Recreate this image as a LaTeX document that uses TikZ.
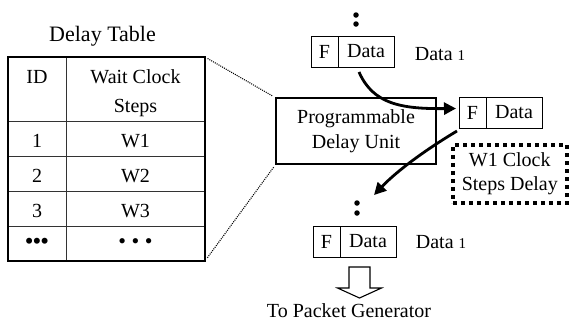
\documentclass[tikz,border=0pt]{standalone}
\usepackage{fontspec}
\setmainfont{Liberation Serif}
\usetikzlibrary{arrows.meta,calc}

\begin{document}
\begin{tikzpicture}[x=1pt,y=-1pt,
  txt/.style={font=\fontsize{20}{25}\selectfont, inner sep=0pt, anchor=base},
  gridline/.style={line width=0.9pt, draw=black!80},
  frame/.style={draw, line width=1.8pt, inner sep=0pt, outer sep=0pt},
  unitbox/.style={draw, line width=1.3pt, inner sep=0pt, outer sep=0pt, align=center,
    font=\fontsize{20}{25}\selectfont},
  fcell/.style={draw, line width=1pt, inner sep=0pt, outer sep=0pt, minimum width=27pt,
    minimum height=31pt, anchor=north west, font=\fontsize{20}{24}\selectfont},
  dcell/.style={fcell, minimum width=56pt},
  dot/.style={circle, fill, inner sep=0pt, minimum size=5.5pt},
  zoomline/.style={line width=1.1pt, dash pattern=on 1pt off 1.1pt},
  delaybox/.style={draw, line width=3.6pt, dash pattern=on 3.8pt off 4.2pt, inner sep=0pt,
    minimum width=114pt, minimum height=58pt, anchor=north west, align=center,
    font=\fontsize{20}{24}\selectfont},
  flow/.style={line width=2.8pt, -{Triangle[length=12pt,width=12pt]}},
  hollow/.style={draw, line width=1.1pt, fill=white, line join=miter}
]
\useasboundingbox (0,0) rectangle (569,330);

% ---- delay table ----
\node[txt, font=\fontsize{22}{26}\selectfont] (title) at (102.5,41) {Delay Table};
\node[frame, minimum width=197pt, minimum height=204pt, anchor=north west] (tbl) at (8,57) {};
\draw[gridline] (66,57) -- (66,261);
\foreach \yy in {121,156,191,226} \draw[gridline] (8,\yy) -- (205,\yy);
\node[frame, minimum width=197pt, minimum height=204pt, anchor=north west] at (8,57) {};

\node[txt] (hid) at (37,83) {ID};
\node[txt] (hw1) at (135.5,83) {Wait Clock};
\node[txt] (hw2) at (135.5,112) {Steps};
\node[txt] (r1a) at (37,147) {1};
\node[txt] (r1b) at (135.5,147) {W1};
\node[txt] (r2a) at (37,182) {2};
\node[txt] (r2b) at (135.5,182) {W2};
\node[txt] (r3a) at (37,217) {3};
\node[txt] (r3b) at (135.5,217) {W3};
\node[txt, anchor=center, font=\fontsize{22}{25}\bfseries] (r4a) at (37,243.5) {•••};
\node[txt, anchor=center, font=\fontsize{22}{25}\selectfont] (r4b) at (135.5,243.5) {• • •};

% ---- programmable delay unit ----
\node[unitbox, minimum width=160pt, minimum height=66pt, anchor=north west] (pdu) at (276,98)
  {Programmable\\Delay Unit};

\draw[zoomline, shorten <=3pt, shorten >=4pt] (tbl.north east) -- (pdu.north west);
\draw[zoomline, shorten <=4pt, shorten >=4pt] (tbl.south east) -- (pdu.south west);

% ---- incoming packet ----
\node[dot] (u1) at (356,15) {};
\node[dot] (u2) at (356,24) {};
\node[fcell] (f1) at (311,36) {F};
\node[dcell] (d1) at (f1.north east) {Data};
\node[txt] (l1) at (440,60) {Data {\fontsize{15}{18}\selectfont 1}};

% ---- packet being delayed ----
\node[fcell] (f2) at (459,97) {F};
\node[dcell] (d2) at (f2.north east) {Data};
\node[delaybox] (wait) at (451,143) {W1 Clock\\Steps Delay};

% ---- outgoing packet ----
\node[dot] (v1) at (357,203) {};
\node[dot] (v2) at (357,213) {};
\node[fcell] (f3) at (313,226) {F};
\node[dcell] (d3) at (f3.north east) {Data};
\node[txt] (l3) at (441,248) {Data {\fontsize{15}{18}\selectfont 1}};

% ---- transfer arrows ----
\coordinate (a1s) at ($(d1.south west)+(21,5)$);
\draw[flow] (a1s) .. controls ($(a1s)+(14,32)$) and ($(a1s)+(42,37)$) .. ($(f2.west)+(-3,-4)$);
\coordinate (a2s) at ($(f2.south west)+(-2,3)$);
\draw[flow] (a2s) .. controls ($(a2s)+(-40,24)$) and ($(a2s)+(-64,44)$) .. (374,195);

% ---- hand-over to the packet generator ----
\coordinate (ha) at (359.5,267);
\draw[hollow] ($(ha)+(-10.5,0)$) -- ($(ha)+(-10.5,21)$) -- ($(ha)+(-22,21)$) -- ($(ha)+(0,31)$)
  -- ($(ha)+(22,21)$) -- ($(ha)+(10.5,21)$) -- ($(ha)+(10.5,0)$) -- cycle;
\node[txt] (gen) at (349,317) {To Packet Generator};
\end{tikzpicture}
\end{document}
